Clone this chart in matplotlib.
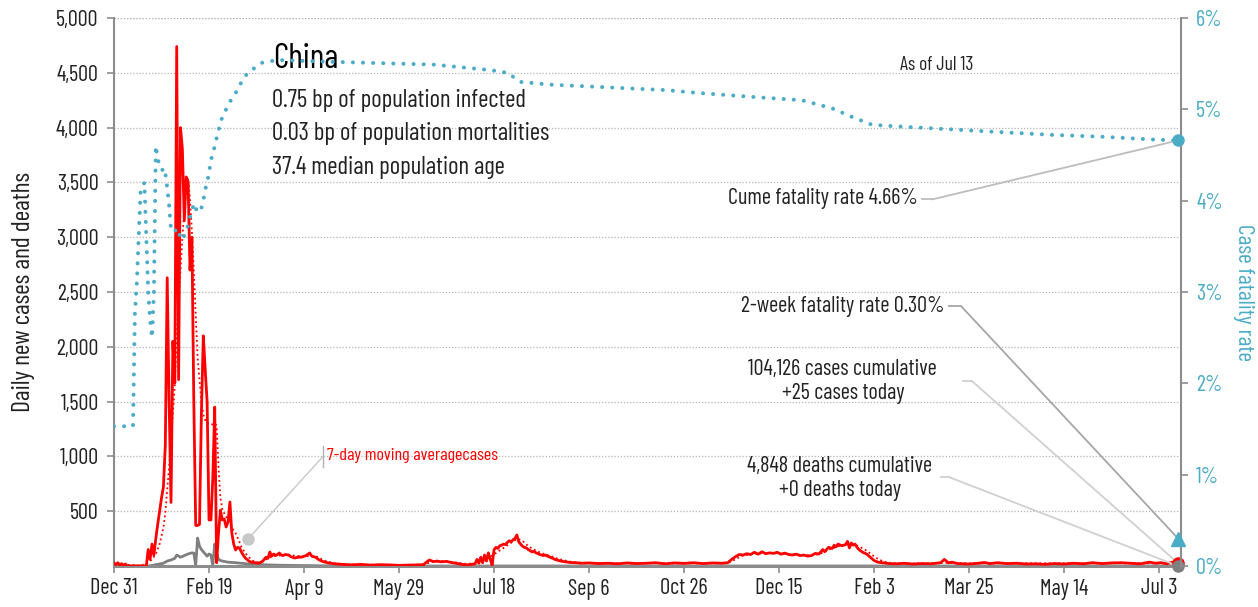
import numpy as np
import pandas as pd
import matplotlib
matplotlib.use("Agg")
import matplotlib.pyplot as plt
import matplotlib.dates as mdates

plt.rcParams['font.family'] = ['Barlow Condensed', 'DejaVu Sans']

START = pd.Timestamp('2019-12-31')

# daily new cases (day offset from Dec 31 2019, count)
case_days = [0, 1, 2, 3, 4, 5, 6, 7, 17,
             18, 19, 20, 21, 22, 23, 24, 25, 26, 27, 28, 29, 30, 31, 32, 33, 34, 35, 36, 37, 38, 39,
             40, 41, 42, 43, 44, 45, 46, 47, 48, 49, 50, 51, 52, 53, 54, 55, 56, 57, 58, 59, 60, 61,
             62, 63, 64, 65, 66, 67, 68, 69, 70, 71, 72, 74, 76, 78, 79, 80, 81, 82, 83, 84, 85, 86,
             87, 88, 89, 90, 92, 93, 95, 97, 99, 101, 103, 104, 106, 108, 110, 113, 116, 120, 125,
             130, 135, 140, 145, 150, 155, 160, 163, 164, 166, 168, 170, 172, 175, 178, 180, 183,
             186, 189, 190, 191, 192, 193, 194, 195, 196, 197, 198, 199, 200, 201, 202, 203, 204,
             205, 206, 207, 208, 209, 210, 211, 212, 213, 214, 215, 216, 217, 218, 219, 220, 221,
             222, 223, 224, 225, 226, 227, 228, 229, 230, 231, 232, 233, 234, 236, 238, 240, 243,
             246, 250, 255, 260, 265, 270, 275, 280, 285, 290, 295, 300, 305, 310, 315, 320, 323,
             325, 327, 329, 331, 333, 335, 337, 339, 341, 343, 345, 347, 349, 351, 353, 355, 357,
             359, 361, 363, 365, 367, 369, 371, 373, 374, 376, 378, 379, 380, 381, 383, 385, 386,
             387, 388, 389, 390, 391, 392, 394, 396, 398, 400, 402, 405, 408, 412, 416, 420, 425,
             430, 435, 437, 439, 441, 444, 450, 455, 458, 461, 465, 470, 475, 480, 485, 490, 495,
             500, 505, 510, 515, 520, 525, 530, 535, 540, 545, 548, 551, 554, 557, 560]
case_vals = [27, 12, 30, 8, 22, 4, 18, 0, 0,
             150, 60, 200, 100, 250, 380, 500, 620, 720, 1100, 2630, 1500, 580, 2050, 1670, 4740,
             1700, 4000, 3800, 3150, 3550, 3500,
             2700, 3000, 1500, 370, 370, 380, 1400, 2100, 1790, 1500, 420, 420, 800, 1450, 30, 300,
             510, 420, 430, 356, 400, 584,
             300, 200, 146, 170, 165, 130, 100, 75, 60, 45, 36, 30, 25, 40, 60, 80, 70, 128, 90, 110,
             95, 105,
             119, 100, 95, 105, 100, 85, 73, 80, 82, 95, 119, 90, 80, 55, 40, 27, 20, 15, 10,
             15, 8, 12, 10, 6, 8, 10, 12, 30, 55, 40, 45, 38, 42, 30, 25, 15,
             10, 18, 20, 60, 25, 80, 30, 100, 45, 120, 60, 10, 150, 170, 160, 185, 190,
             200, 195, 215, 230, 220, 240, 250, 283, 220, 200, 180, 170, 165, 150, 140, 128, 135,
             120, 115, 105, 100, 95, 100, 90, 85, 75, 70, 60, 55, 50, 42, 37, 32, 30,
             25, 28, 22, 25, 20, 28, 22, 25, 30, 20, 28, 24, 30, 22, 28, 25, 30,
             60, 85, 105, 100, 112, 105, 125, 108, 130, 112, 120, 115, 125, 108, 118, 105, 100,
             108, 95, 100, 90, 95, 115, 110, 150, 130, 170, 160, 190, 175, 200, 185, 195, 225,
             165, 210, 190, 200, 170, 150, 125, 110, 80, 50, 35, 28, 22, 20, 25, 18, 22,
             20, 30, 60, 30, 35, 22, 18, 25, 32, 22, 30, 22, 25, 18, 20, 15, 22,
             18, 25, 20, 30, 22, 28, 30, 25, 20, 35, 25, 30, 20, 35, 25]

# 7-day moving average of cases
avg_days = [0, 7, 14, 18, 20, 22, 24, 26, 27, 28, 29, 30, 31, 32, 33, 34, 35, 36, 37, 38, 39, 40,
            41, 42, 43, 44, 45, 46, 47, 48, 49, 50, 51, 52, 53, 54, 55, 56, 57, 58, 59, 60, 62,
            64, 66, 67, 69, 71, 73, 75, 77, 79, 81, 83, 86, 90, 95, 100, 104, 106, 108, 110, 113,
            116, 120, 130, 150, 162, 165, 168, 172, 176, 180, 185, 190, 193, 196, 199, 202, 205,
            208, 210, 212, 214, 216, 218, 221, 224, 227, 230, 233, 236, 240, 245, 255, 320, 324,
            327, 330, 334, 340, 346, 352, 358, 364, 369, 372, 375, 378, 381, 384, 387, 390, 393,
            396, 399, 402, 405, 410, 420, 437, 445, 560]
avg_vals = [20, 10, 2, 30, 60, 110, 200, 350, 480, 700, 900, 1150, 1400, 1650, 2100, 2450, 2700,
            3000, 3250, 3450, 3540, 3350,
            3050, 2700, 2300, 1900, 1700, 1500, 1380, 1330, 1300, 1300, 1300, 1290, 1300, 1280,
            900, 620, 520, 480, 450, 420, 350,
            300, 220, 175, 120, 80, 50, 35, 35, 50, 70, 85, 95, 100, 95, 88, 95, 90, 75, 55, 38,
            25, 18, 12, 9, 10, 25, 40, 44, 40, 32, 20, 22, 45, 70, 95, 130, 165,
            200, 225, 245, 240, 215, 180, 150, 125, 105, 90, 70, 55, 40, 30, 25, 25, 35,
            60, 90, 105, 115, 118, 115, 105, 98, 100, 115, 140, 160, 180, 190, 200, 195, 170,
            140, 100, 65, 40, 25, 22, 30, 25, 25]

# daily new deaths
death_days = [0, 18, 20, 23, 26, 28, 30, 32, 33, 35, 37, 39, 41, 42, 43, 44, 45, 46, 47, 48, 49,
              50, 51, 52, 53, 54, 55, 56, 57, 60, 64, 70, 75, 80, 90, 100, 110, 120, 140, 560]
death_vals = [0, 0, 5, 15, 25, 45, 55, 70, 100, 80, 95, 110, 120, 118, 5, 255, 180, 150, 130,
              110, 90, 110, 100, 5, 200, 120, 60, 50, 45, 35, 30, 20, 15, 10, 6, 4, 2, 1, 0, 0]

# cumulative case fatality rate (%)
rate_days = [0, 10, 11, 12, 13, 14, 15, 16, 17, 18, 19, 20, 21, 22, 23, 24, 25, 26, 27, 28, 29,
             30, 31, 32, 33, 34, 35, 36, 37, 38, 39, 40, 41, 42, 43, 44, 45, 46, 47, 48, 49, 50,
             51, 52, 53, 55, 57, 59, 62, 65, 68, 71, 78, 86, 115, 168, 198, 207, 214, 230, 291,
             307, 340, 362, 378, 388, 399, 415, 441, 467, 494, 520, 546, 560]
rate_vals = [1.53, 1.53, 2.77, 3.1, 3.6, 4.1, 4.15, 4.2, 3.6, 3.0, 2.7, 2.5, 3.0, 4.6, 4.45, 4.4,
             4.39, 4.28, 4.3, 4.14, 3.95, 3.68, 3.66, 3.66, 3.7, 3.65, 3.6, 3.57, 3.62, 3.68, 3.73,
             3.82, 3.88, 3.97, 3.92, 3.87, 3.9, 3.92, 4.0, 4.12, 4.2, 4.3, 4.45, 4.5, 4.6, 4.77,
             4.92, 5.0, 5.12, 5.21, 5.34, 5.41, 5.51, 5.54, 5.52, 5.49, 5.43, 5.40, 5.30, 5.27,
             5.21, 5.18, 5.13, 5.10, 5.01, 4.92, 4.83, 4.81, 4.78, 4.75, 4.72, 4.70, 4.67, 4.66]

two_week_rate = 0.30
last_cases = 25
last_deaths = 0

stats = ["0.75 bp of population infected",
         "0.03 bp of population mortalities",
         "37.4 median population age"]
tick_step_days = 50

RED = '#ff0000'
TEAL = '#4bacc6'
GREY = '#7f7f7f'
SPINE = '#8c8c8c'


def to_dates(days):
    return START + pd.to_timedelta(np.array(days), unit='D')


fig = plt.figure(figsize=(12.58, 6.07), dpi=100)
ax = fig.add_axes([114 / 1258, 1 - 566 / 607, 1067 / 1258, 548 / 607])
ax2 = ax.twinx()

ax.plot(to_dates(case_days), case_vals, color=RED, lw=2.0, zorder=3)
ax.plot(to_dates(avg_days), avg_vals, color=RED, lw=1.3, linestyle=(0, (1, 1.6)), zorder=3)
ax.plot(to_dates(death_days), death_vals, color=GREY, lw=2.0, zorder=2)

ax2.plot(to_dates(rate_days), rate_vals, color=TEAL, lw=2.9,
         linestyle=(0, (0.01, 2.5)), dash_capstyle='round', zorder=3)

end = to_dates([560])[0]
ax2.plot([end], [rate_vals[-1]], 'o', color=TEAL, ms=8, zorder=5, clip_on=False)
ax2.plot([end], [two_week_rate], '^', color=TEAL, ms=10, zorder=5, clip_on=False)
ax.plot([end], [last_cases], 'o', color=RED, ms=8, zorder=5, clip_on=False)
ax.plot([end], [last_deaths], 'o', color=GREY, ms=8, zorder=6, clip_on=False)

# axes ranges and ticks
ax.set_xlim(START, START + pd.Timedelta(days=561.5))
ax.set_ylim(0, 5000)
ax2.set_ylim(0, 6)
ticks = [START + pd.Timedelta(days=tick_step_days * k) for k in range(12)]
ax.set_xticks(ticks)
ax.xaxis.set_major_formatter(mdates.DateFormatter('%b %-d'))
ax.set_yticks(np.arange(500, 5001, 500))
ax.yaxis.set_major_formatter(matplotlib.ticker.FuncFormatter(lambda v, p: f'{int(v):,}'))
ax2.set_yticks(range(0, 7))
ax2.yaxis.set_major_formatter(matplotlib.ticker.FuncFormatter(lambda v, p: f'{int(v)}%'))

ax.tick_params(axis='x', colors=SPINE, labelcolor='#222222', labelsize=16, length=5, width=1.2, pad=4)
ax.tick_params(axis='y', colors=SPINE, labelcolor='#222222', labelsize=16, length=5, width=1.2, pad=6)
ax2.tick_params(axis='y', colors=SPINE, labelcolor=TEAL, labelsize=16, length=5, width=1.2, pad=6)

for a in (ax, ax2):
    a.spines['top'].set_visible(False)
ax.spines['right'].set_visible(False)
ax2.spines['left'].set_visible(False)
ax2.spines['bottom'].set_visible(False)
ax.spines['left'].set_color(SPINE)
ax.spines['left'].set_linewidth(1.5)
ax.spines['bottom'].set_color(SPINE)
ax.spines['bottom'].set_linewidth(2.2)
ax2.spines['right'].set_color(SPINE)
ax2.spines['right'].set_linewidth(1.5)

ax.yaxis.grid(True, linestyle=(0, (1, 1.5)), color='#b5b5b5', lw=0.9)
ax.axhline(5000, linestyle=(0, (1, 1.5)), color='#b5b5b5', lw=0.9)
ax.set_axisbelow(True)

ax.set_ylabel('Daily new cases and deaths', fontsize=18.5, color='#222222', labelpad=15)
ax2.set_ylabel('Case fatality rate', fontsize=17, color=TEAL, rotation=270, labelpad=22)

# title block
ax.text(0.149, 0.925, 'China', transform=ax.transAxes, fontsize=24.5, color='black', va='center')
for i, s in enumerate(stats):
    ax.text(0.148, 0.85 - i * 0.061, s, transform=ax.transAxes, fontsize=18, color='#222222', va='center')
ax.text(0.771, 0.915, 'As of Jul 13', transform=ax.transAxes, fontsize=14, color='#222222',
        va='center', ha='center')

# 7-day moving average label
ax.text(0.1995, 0.2015, '7-day moving averagecases', transform=ax.transAxes, fontsize=13,
        color=RED, va='center')
ax.plot([0.196, 0.196], [0.18, 0.219], transform=ax.transAxes, color='#b0b0b0', lw=1)
anchor = START + pd.Timedelta(days=70.5)
ax.plot([anchor], [246], 'o', color='#c8c8c8', ms=8, zorder=4)
ax.annotate('', xy=(anchor, 246), xytext=(0.196, 0.2), textcoords='axes fraction',
            arrowprops=dict(arrowstyle='-', color='#c8c8c8', lw=1, shrinkA=0, shrinkB=0))


# right-hand annotations
def callout(lines, tx, ty, elbow, target, target_ax, color, ha='right'):
    ax.text(tx, ty, lines, transform=ax.transAxes, fontsize=16, color='#222222',
            ha=ha, va='center', multialignment='center', linespacing=1.2)
    ax.plot([elbow[0], elbow[1]], [elbow[2], elbow[2]], transform=ax.transAxes,
            color=color, lw=1.3)
    target_ax.annotate('', xy=target, xytext=(elbow[1], elbow[2]), textcoords='axes fraction',
                       arrowprops=dict(arrowstyle='-', color=color, lw=1.3, shrinkA=0, shrinkB=0),
                       annotation_clip=False)


callout('Cume fatality rate 4.66%', 0.753, 0.670, (0.757, 0.767, 0.669),
        (end, rate_vals[-1]), ax2, '#bdbdbd')
callout('2-week fatality rate 0.30%', 0.778, 0.473, (0.783, 0.794, 0.474),
        (end, two_week_rate), ax2, '#a6a6a6')
callout('104,126 cases cumulative\n+25 cases today', 0.683, 0.336, (0.796, 0.804, 0.3376),
        (end, last_cases), ax, '#d0d0d0', ha='center')
callout('4,848 deaths cumulative\n+0 deaths today', 0.680, 0.159, (0.775, 0.7835, 0.1615),
        (end, last_deaths), ax, '#d0d0d0', ha='center')

fig.savefig('out.png', dpi=100)
